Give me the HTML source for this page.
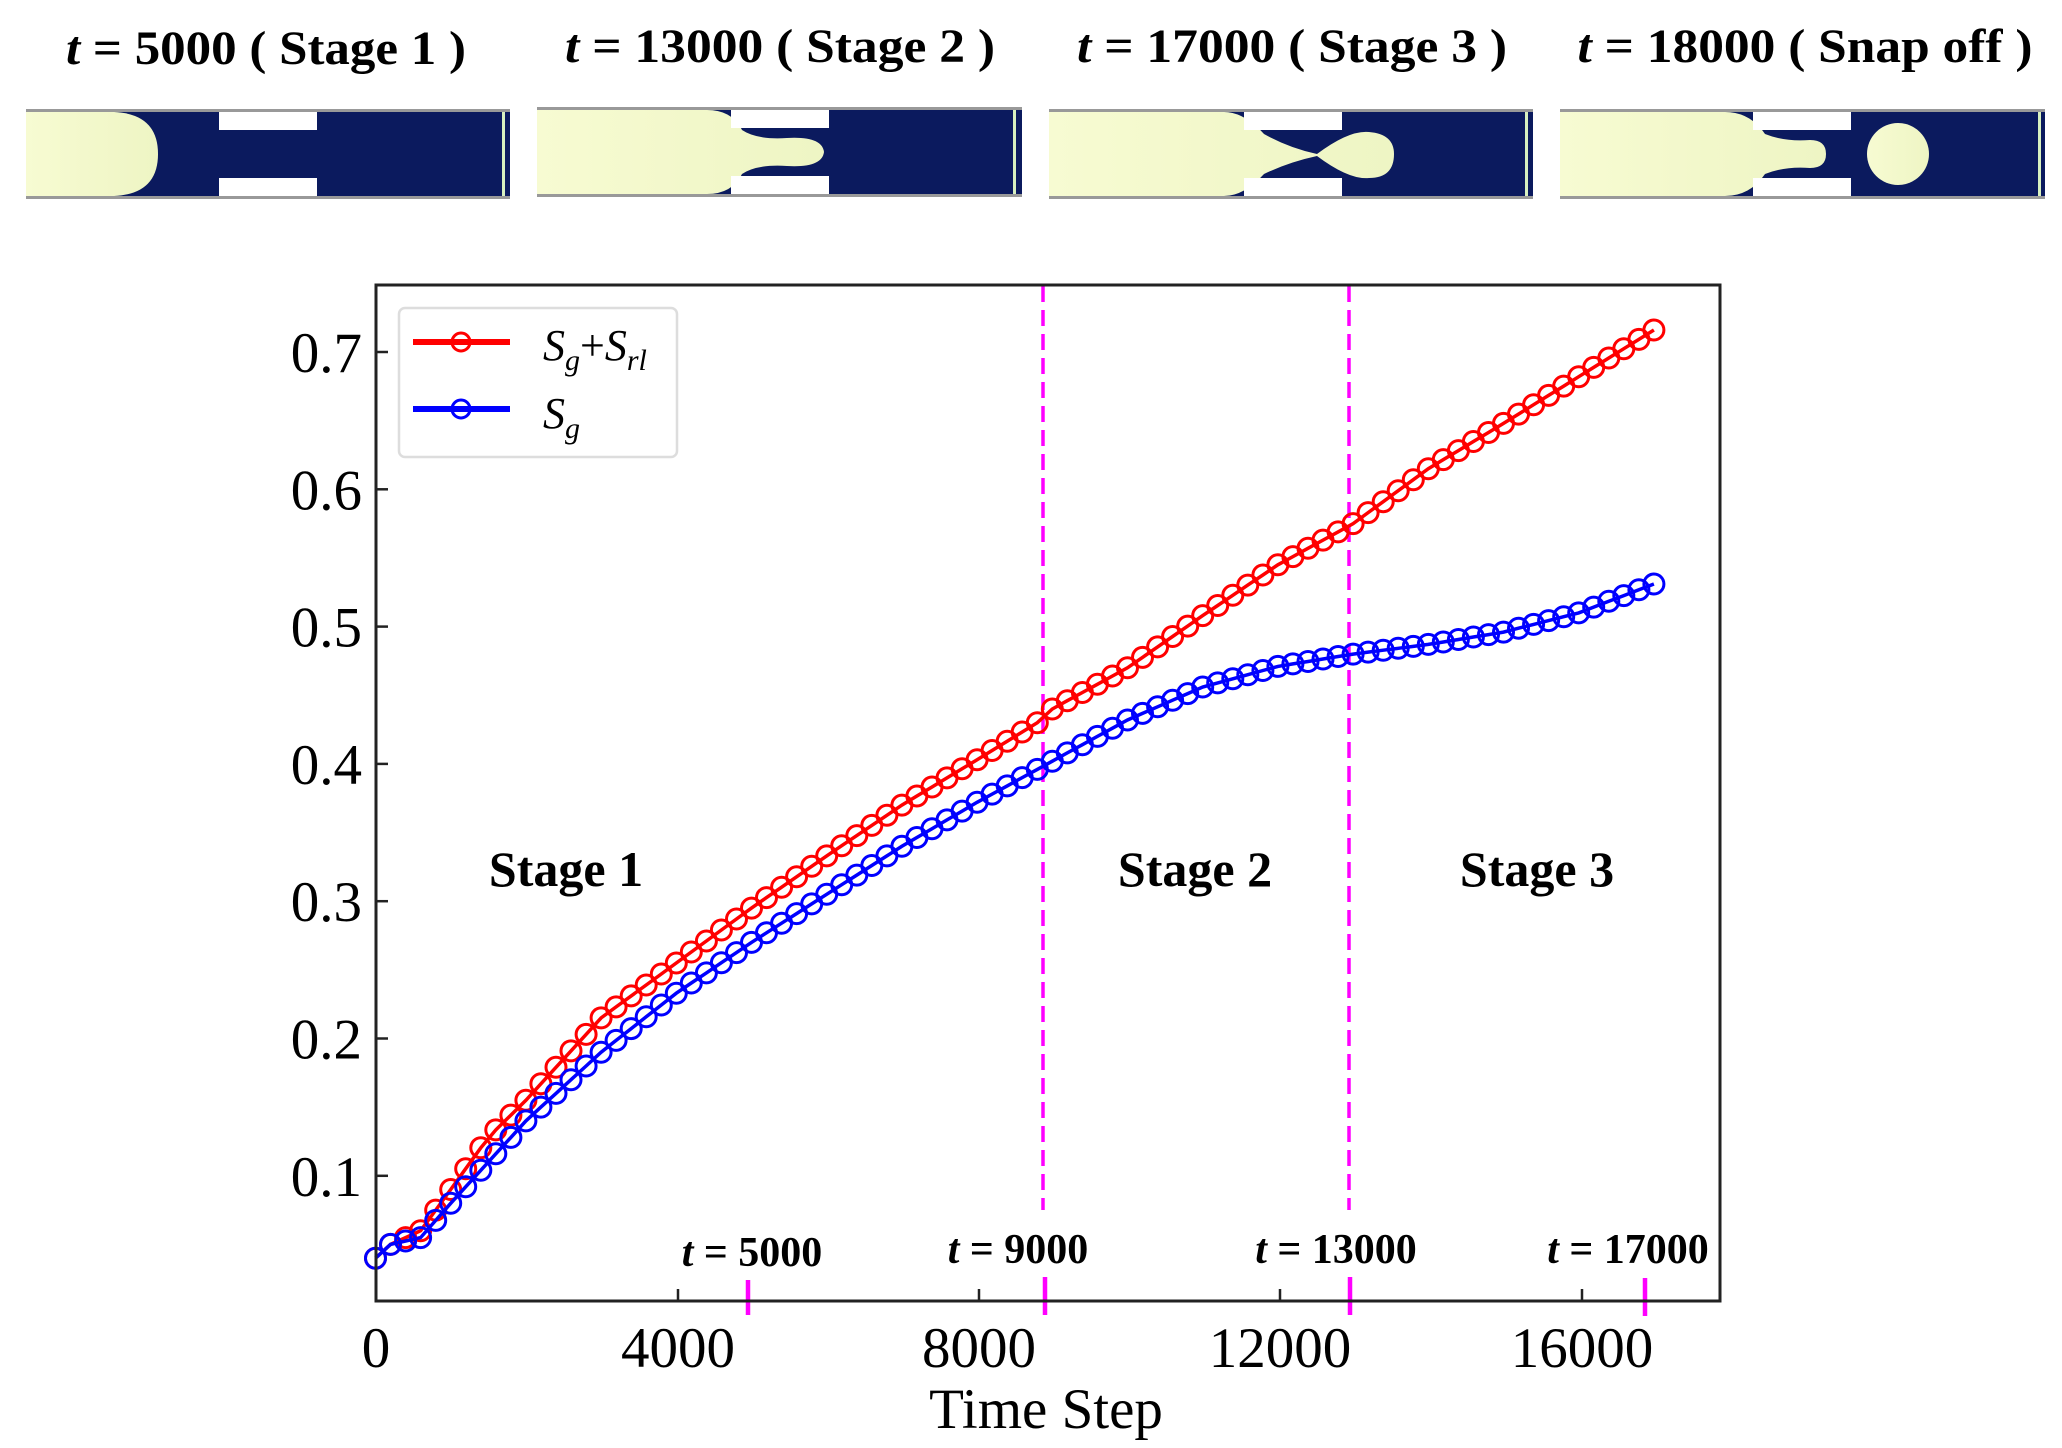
<!DOCTYPE html>
<html><head><meta charset="utf-8"><style>
html,body{margin:0;padding:0;background:#fff;}
svg{display:block;font-family:"Liberation Serif",serif;}
</style></head><body>
<svg id="s" width="2062" height="1448" viewBox="0 0 2062 1448" xmlns="http://www.w3.org/2000/svg">
<defs>
<linearGradient id="yl" x1="0" x2="1"><stop offset="0" stop-color="#f7fbd2"/><stop offset="1" stop-color="#eef5c4"/></linearGradient>
</defs>
<g font-weight="bold" font-size="48" text-anchor="middle">
<text x="266" y="64" textLength="400" lengthAdjust="spacingAndGlyphs"><tspan font-style="italic">t</tspan> = 5000 ( Stage 1 )</text>
<text x="780" y="62" textLength="430" lengthAdjust="spacingAndGlyphs"><tspan font-style="italic">t</tspan> = 13000 ( Stage 2 )</text>
<text x="1292" y="62" textLength="430" lengthAdjust="spacingAndGlyphs"><tspan font-style="italic">t</tspan> = 17000 ( Stage 3 )</text>
<text x="1805" y="62" textLength="455" lengthAdjust="spacingAndGlyphs"><tspan font-style="italic">t</tspan> = 18000 ( Snap off )</text>
</g>
<g transform="translate(26,112)">
<rect width="484" height="84" fill="#0b1a5e"/>
<path d="M0,0 H88 Q132,2 132,42 Q132,82 88,84 H0 Z" fill="url(#yl)"/>
<rect x="193" y="0" width="98" height="18" fill="#fff"/><rect x="193" y="66" width="98" height="18" fill="#fff"/>
<rect x="476" y="0" width="3" height="84" fill="#d8f0c0"/>
<rect y="-3" width="484" height="3" fill="#999"/><rect y="84" width="484" height="3" fill="#999"/>
</g>
<g transform="translate(537,110)">
<rect width="485" height="84" fill="#0b1a5e"/>
<path d="M0,0 H170 Q195,0 205,20 Q220,30 250,28 Q285,26 287,42 Q285,58 250,56 Q220,54 205,64 Q195,84 170,84 H0 Z" fill="url(#yl)"/>
<rect x="194" y="0" width="98" height="18" fill="#fff"/><rect x="194" y="66" width="98" height="18" fill="#fff"/>
<rect x="476" y="0" width="3" height="84" fill="#d8f0c0"/>
<rect y="-3" width="485" height="3" fill="#999"/><rect y="84" width="485" height="3" fill="#999"/>
</g>
<g transform="translate(1049,112)">
<rect width="484" height="84" fill="#0b1a5e"/>
<path d="M0,0 H175 Q195,0 215,22 Q240,36 268,42 Q300,18 320,20 Q345,22 345,42 Q345,66 320,66 Q300,68 268,44 Q240,50 215,62 Q195,84 175,84 H0 Z" fill="url(#yl)"/>
<rect x="195" y="0" width="98" height="18" fill="#fff"/><rect x="195" y="66" width="98" height="18" fill="#fff"/>
<rect x="476" y="0" width="3" height="84" fill="#d8f0c0"/>
<rect y="-3" width="484" height="3" fill="#999"/><rect y="84" width="484" height="3" fill="#999"/>
</g>
<g transform="translate(1560,112)">
<rect width="485" height="84" fill="#0b1a5e"/>
<path d="M0,0 H165 Q190,0 205,22 Q225,30 250,28 Q266,28 266,42 Q266,56 250,56 Q225,54 205,62 Q190,84 165,84 H0 Z" fill="url(#yl)"/>
<ellipse cx="338" cy="42" rx="31" ry="31" fill="url(#yl)"/>
<rect x="193" y="0" width="98" height="18" fill="#fff"/><rect x="193" y="66" width="98" height="18" fill="#fff"/>
<rect x="478" y="0" width="3" height="84" fill="#d8f0c0"/>
<rect y="-3" width="485" height="3" fill="#999"/><rect y="84" width="485" height="3" fill="#999"/>
</g>

<g stroke="#ff00ff" stroke-width="3.5" stroke-dasharray="16,8">
<line x1="1043" y1="286" x2="1043" y2="1210"/>
<line x1="1349" y1="286" x2="1349" y2="1210"/>
</g>
<g stroke="#ff00ff" stroke-width="4.5">
<line x1="748" y1="1280" x2="748" y2="1315"/>
<line x1="1045" y1="1277" x2="1045" y2="1315"/>
<line x1="1350" y1="1277" x2="1350" y2="1315"/>
<line x1="1645" y1="1278" x2="1645" y2="1316"/>
</g>
<g id="series"></g>

<rect x="376" y="285" width="1344" height="1016" fill="none" stroke="#222" stroke-width="3"/>
<g stroke="#222" stroke-width="2.5">
<line x1="678" y1="1301" x2="678" y2="1289"/><line x1="979" y1="1301" x2="979" y2="1289"/>
<line x1="1280" y1="1301" x2="1280" y2="1289"/><line x1="1582" y1="1301" x2="1582" y2="1289"/>
</g>
<g id="yt" stroke="#222" stroke-width="2.5"></g>
<g font-size="57" text-anchor="end" id="yl2"></g>
<g font-size="57" text-anchor="middle">
<text x="376" y="1367">0</text><text x="678" y="1367">4000</text><text x="979" y="1367">8000</text>
<text x="1280" y="1367">12000</text><text x="1582" y="1367">16000</text>
<text x="1046" y="1428">Time Step</text>
</g>
<g font-weight="bold" font-size="42" text-anchor="middle">
<text x="752" y="1266"><tspan font-style="italic">t</tspan> = 5000</text>
<text x="1018" y="1263"><tspan font-style="italic">t</tspan> = 9000</text>
<text x="1336" y="1263"><tspan font-style="italic">t</tspan> = 13000</text>
<text x="1628" y="1263"><tspan font-style="italic">t</tspan> = 17000</text>
</g>
<g font-weight="bold" font-size="50" text-anchor="middle">
<text x="566" y="886">Stage 1</text><text x="1195" y="886">Stage 2</text><text x="1537" y="886">Stage 3</text>
</g>
<rect x="399" y="308" width="278" height="149" rx="6" fill="#fff" stroke="#ddd" stroke-width="2.5"/>
<line x1="413" y1="342" x2="510" y2="342" stroke="#ff0000" stroke-width="6"/>
<circle cx="461" cy="342" r="9" fill="none" stroke="#ff0000" stroke-width="3"/>
<line x1="413" y1="409" x2="510" y2="409" stroke="#0000ff" stroke-width="6"/>
<circle cx="461" cy="409" r="9" fill="none" stroke="#0000ff" stroke-width="3"/>
<g font-size="44" font-style="italic">
<text x="543" y="360">S<tspan font-size="30" dy="10">g</tspan><tspan dy="-10" font-style="normal">+</tspan>S<tspan font-size="30" dy="10">rl</tspan></text>
<text x="543" y="428">S<tspan font-size="30" dy="10">g</tspan></text>
</g>
</svg>
<script>
(function(){
var NS="http://www.w3.org/2000/svg";
function X(t){return 375.5+t*0.0752;}
function Y(v){return 352+(0.7-v)*1373;}
var red=[[0,.04],[200,.05],[600,.06],[1000,.09],[1500,.128],[2000,.155],[2500,.185],[3000,.215],[4000,.255],[5000,.295],[6000,.333],[7000,.37],[8000,.403],[8800,.43],[9000,.44],[10000,.47],[11000,.508],[12000,.545],[13000,.575],[14000,.615],[15000,.648],[16000,.682],[17000,.716]];
var blue=[[0,.04],[200,.05],[600,.055],[1000,.08],[1500,.11],[2000,.14],[3000,.19],[4000,.233],[5000,.27],[6000,.305],[7000,.34],[8000,.372],[9000,.402],[10000,.432],[11000,.456],[12000,.471],[13000,.48],[14000,.487],[15000,.496],[16000,.51],[17000,.531]];
function interp(d,t){for(var i=0;i<d.length-1;i++){if(t<=d[i+1][0]){var f=(t-d[i][0])/(d[i+1][0]-d[i][0]);return d[i][1]+f*(d[i+1][1]-d[i][1]);}}return d[d.length-1][1];}
var g=document.getElementById("series");
[[red,"#ff0000"],[blue,"#0000ff"]].forEach(function(p){
 var pts=[];for(var t=0;t<=17000;t+=200){pts.push(X(t).toFixed(1)+","+Y(interp(p[0],t)).toFixed(1));}
 var pl=document.createElementNS(NS,"polyline");pl.setAttribute("points",pts.join(" "));pl.setAttribute("fill","none");pl.setAttribute("stroke",p[1]);pl.setAttribute("stroke-width","3.5");g.appendChild(pl);
 pts.forEach(function(s){var a=s.split(",");var c=document.createElementNS(NS,"circle");c.setAttribute("cx",a[0]);c.setAttribute("cy",a[1]);c.setAttribute("r","10");c.setAttribute("fill","none");c.setAttribute("stroke",p[1]);c.setAttribute("stroke-width","3");g.appendChild(c);});
});
var yt=document.getElementById("yt"),yl=document.getElementById("yl2");
for(var k=1;k<=7;k++){var v=k/10,y=Y(v);
 var l=document.createElementNS(NS,"line");l.setAttribute("x1",376);l.setAttribute("x2",388);l.setAttribute("y1",y);l.setAttribute("y2",y);yt.appendChild(l);
 var tx=document.createElementNS(NS,"text");tx.setAttribute("x",362);tx.setAttribute("y",y+20);tx.textContent=v.toFixed(1);yl.appendChild(tx);}
})();
</script>
</body></html>
